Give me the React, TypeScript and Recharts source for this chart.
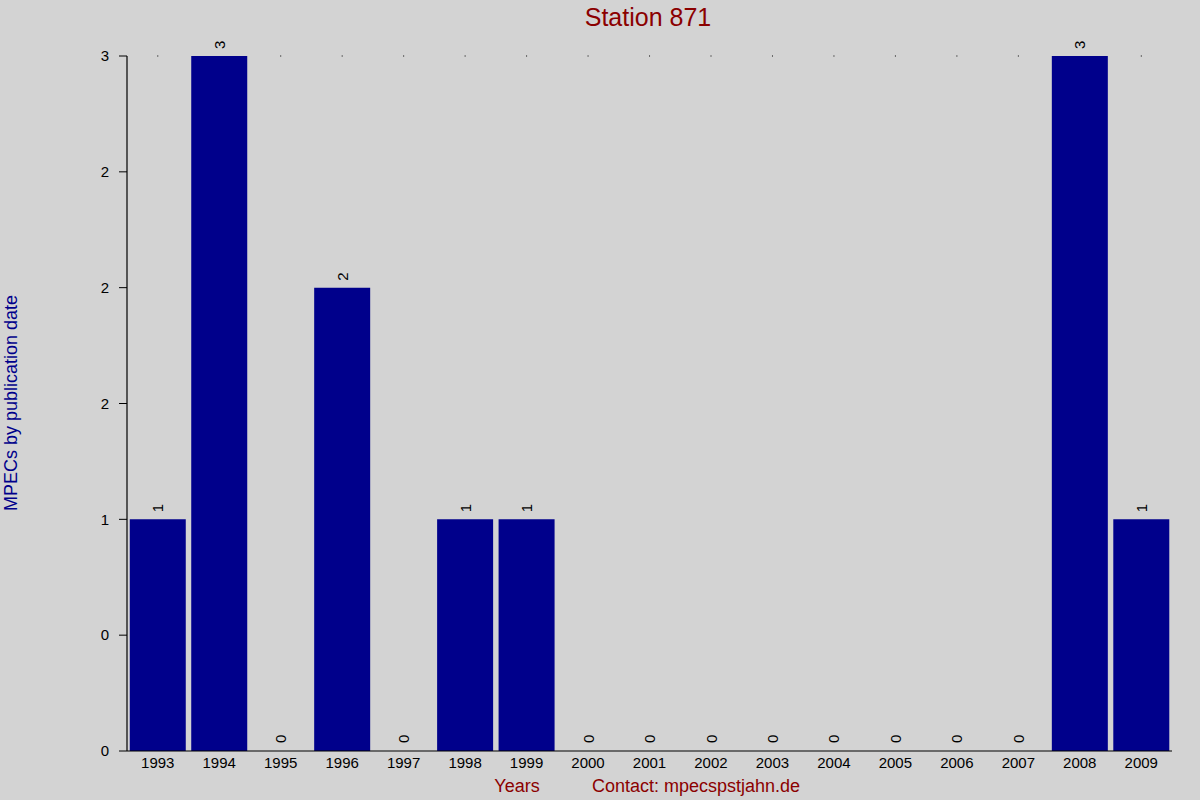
import React from "react";
import { BarChart, Bar, XAxis, YAxis, LabelList, Rectangle } from "recharts";

const years = ["1993","1994","1995","1996","1997","1998","1999","2000","2001","2002","2003","2004","2005","2006","2007","2008","2009"];
const counts = [1,3,0,2,0,1,1,0,0,0,0,0,0,0,0,3,1];
const yTicks = [0,0.5,1,1.5,2,2.5,3];
const yTickLabels = ["0","0","1","2","2","2","3"];

const data = years.map((y, i) => ({ year: y, count: counts[i] }));

const FONT = "'Liberation Sans', Arial, sans-serif";
const PLOT_TOP = 56;

const BarValueLabel = (props: any) => {
  const { x, y, width, height, value } = props;
  const cx = x + width / 2 + 5.5;
  const cy = Math.min(y, y + height) - 7;
  return (
    <text x={cx} y={cy} transform={`rotate(-90, ${cx}, ${cy})`} textAnchor="start" fontSize={15} fill="#000" fontFamily={FONT}>
      {value}
    </text>
  );
};

const TopDot = (props: any) => {
  const { x, y, width, height } = props;
  const top = Math.min(y, y + height);
  if (top <= PLOT_TOP + 1) return <g />;
  return <rect x={x + width / 2 - 0.5} y={PLOT_TOP - 0.5} width={1} height={1} fill="#000" />;
};

const BarShape = (props: any) => {
  if (props.payload && props.payload.count === 0) return <g />;
  return <Rectangle {...props} />;
};

export default function App() {
  return (
    <div style={{ position: "absolute", left: 0, top: 0, width: 1200, height: 800, background: "#d3d3d3", fontFamily: FONT }}>
      <BarChart
        width={1200}
        height={800}
        data={data}
        margin={{ top: PLOT_TOP, right: 28, bottom: 19, left: 0 }}
        barCategoryGap="4.5%"
      >
        <XAxis
          dataKey="year"
          height={30}
          axisLine={{ stroke: "#000", strokeWidth: 1.2 }}
          tickLine={false}
          tickSize={0}
          tickMargin={6}
          interval={0}
          tick={{ fill: "#000", fontSize: 15, fontFamily: FONT }}
        />
        <YAxis
          width={127}
          domain={[0, 3]}
          ticks={yTicks}
          interval={0}
          tickFormatter={(v: number) => yTickLabels[yTicks.indexOf(v)]}
          axisLine={{ stroke: "#000", strokeWidth: 1.2 }}
          tickLine={{ stroke: "#000" }}
          tickSize={8}
          tickMargin={10}
          tick={{ fill: "#000", fontSize: 15, fontFamily: FONT }}
        />
        <Bar dataKey="count" fill="#00008b" isAnimationActive={false} minPointSize={1} shape={<BarShape />}>
          <LabelList dataKey="count" content={<TopDot />} />
          <LabelList dataKey="count" content={<BarValueLabel />} />
        </Bar>
        <text x={648} y={26} textAnchor="middle" fontSize={25} fill="#8b0000" fontFamily={FONT}>Station 871</text>
        <text x={17} y={403} transform="rotate(-90, 17, 403)" textAnchor="middle" fontSize={18} fill="#00008b" fontFamily={FONT}>MPECs by publication date</text>
        <text x={517} y={792} textAnchor="middle" fontSize={18} fill="#8b0000" fontFamily={FONT}>Years</text>
        <text x={592} y={792} textAnchor="start" fontSize={18} fill="#8b0000" fontFamily={FONT}>Contact: mpecspstjahn.de</text>
      </BarChart>
    </div>
  );
}
